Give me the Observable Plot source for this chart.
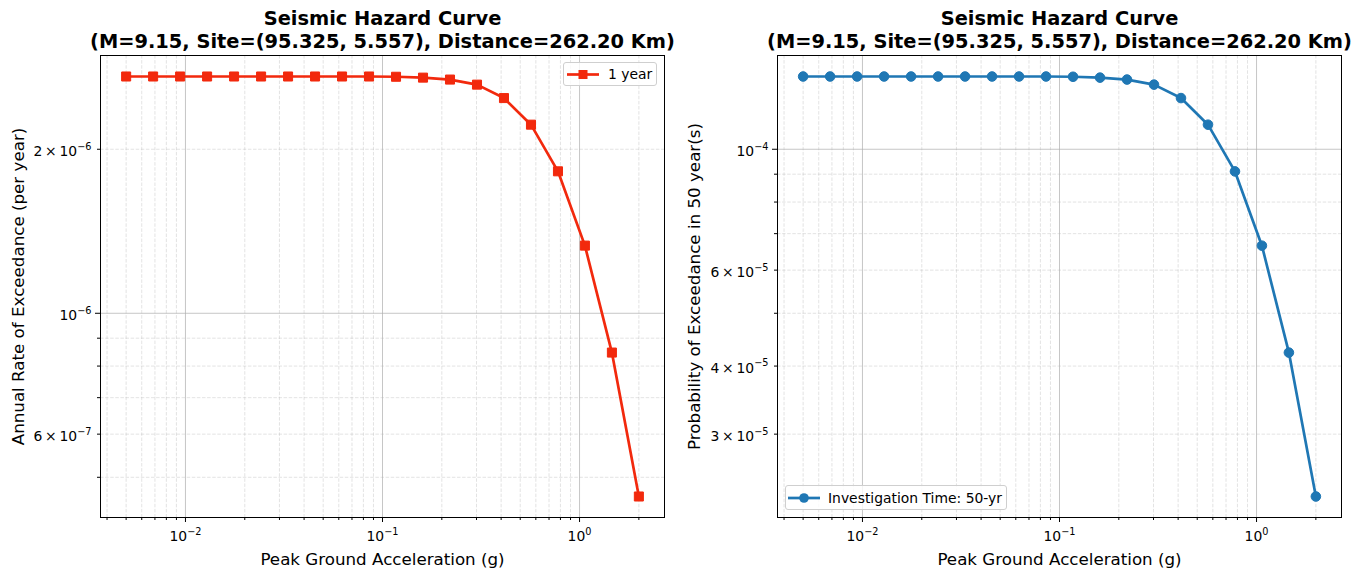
<!DOCTYPE html>
<html>
<head>
<meta charset="utf-8">
<script src="https://cdn.jsdelivr.net/npm/d3@7"></script>
<script src="https://cdn.jsdelivr.net/npm/@observablehq/plot@0.6"></script>
<style>
  body { margin: 0; background: #fff; }
  #wrap { position: relative; width: 1362px; height: 579px; font-family: "DejaVu Sans", sans-serif; }
  .panel { position: absolute; top: 0; width: 681px; height: 579px; }
  .legend { position: absolute; box-sizing: border-box; border: 1px solid #cfcfcf; border-radius: 3px;
            background: rgba(255,255,255,0.8); font-size: 13.9px; color: #000; }
  .legend svg { position: absolute; left: 0; top: 0; }
  .legend span { position: absolute; top: 3px; white-space: nowrap; }
</style>
</head>
<body>
<div id="wrap">
  <div class="panel" id="left" style="left:0"></div>
  <div class="panel" id="right" style="left:681px"></div>
  <div class="legend" style="left:563px; top:62px; width:94px; height:24px">
    <svg width="40" height="24"><line x1="3" x2="35" y1="11.5" y2="11.5" stroke="#f2290d" stroke-width="2.7"/><rect x="14.5" y="7" width="9" height="9" fill="#f2290d"/></svg>
    <span style="left:44px">1 year</span>
  </div>
  <div class="legend" style="left:785px; top:485px; width:222px; height:25px">
    <svg width="40" height="25"><line x1="2" x2="34" y1="12" y2="12" stroke="#1f77b4" stroke-width="2.7"/><circle cx="18" cy="12" r="4.8" fill="#1f77b4"/></svg>
    <span style="left:42px; top:4px">Investigation Time: 50-yr</span>
  </div>
</div>
<script>
// Peak ground acceleration levels (g)
const pga = [0.005, 0.006853, 0.009395, 0.012878, 0.017653, 0.024199, 0.033171, 0.045471,
             0.062331, 0.085442, 0.11712, 0.16055, 0.22008, 0.30169, 0.41355, 0.56689,
             0.77709, 1.0647, 1.4594, 2.0];
// Annual rate of exceedance (per year)
const annualRate = [2.72e-6, 2.72e-6, 2.72e-6, 2.72e-6, 2.72e-6, 2.72e-6, 2.72e-6, 2.72e-6,
                    2.72e-6, 2.72e-6, 2.717e-6, 2.707e-6, 2.685e-6, 2.628e-6, 2.483e-6,
                    2.219e-6, 1.822e-6, 1.331e-6, 0.847e-6, 0.461e-6];
// Probability of exceedance in a 50-year investigation time
const poe50 = [1.360e-4, 1.360e-4, 1.360e-4, 1.360e-4, 1.360e-4, 1.360e-4, 1.360e-4, 1.360e-4,
               1.360e-4, 1.360e-4, 1.3585e-4, 1.3535e-4, 1.3425e-4, 1.314e-4, 1.2415e-4,
               1.1094e-4, 9.106e-5, 6.653e-5, 4.234e-5, 2.305e-5];

// Axis ticks and their labels ("^" marks the start of an exponent)
const xMajor = [0.01, 0.1, 1];
const xMajorLabels = ["10^−2", "10^−1", "10^0"];
const xMinor = [0.004, 0.005, 0.006, 0.007, 0.008, 0.009, 0.02, 0.03, 0.04, 0.05, 0.06, 0.07,
                0.08, 0.09, 0.2, 0.3, 0.4, 0.5, 0.6, 0.7, 0.8, 0.9, 2];
const rateMajor = [1e-6];
const rateMinor = [5e-7, 6e-7, 7e-7, 8e-7, 9e-7, 2e-6];
const rateLabelTicks = [6e-7, 1e-6, 2e-6];
const rateLabels = ["6\u2009×\u200910^−7", "10^−6", "2\u2009×\u200910^−6"];
const poeMajor = [1e-4];
const poeMinor = [3e-5, 4e-5, 5e-5, 6e-5, 7e-5, 8e-5, 9e-5];
const poeLabelTicks = [3e-5, 4e-5, 6e-5, 1e-4];
const poeLabels = ["3\u2009×\u200910^−5", "4\u2009×\u200910^−5", "6\u2009×\u200910^−5", "10^−4"];

const title1 = "Seismic Hazard Curve";
const title2 = "(M=9.15, Site=(95.325, 5.557), Distance=262.20 Km)";
const xLabel = "Peak Ground Acceleration (g)";

function logPadded(vals) {
  const [lo, hi] = d3.extent(vals);
  const a = Math.log10(lo), b = Math.log10(hi), p = (b - a) * 0.05;
  return [10 ** (a - p), 10 ** (b + p)];
}

// Turn "base^exp" tick labels into a base plus a raised, smaller exponent
function superscripts(svg) {
  for (const t of svg.querySelectorAll("text")) {
    const s = t.textContent;
    if (!s.includes("^")) continue;
    const [base, exp] = s.split("^");
    t.textContent = "";
    const b = document.createElementNS("http://www.w3.org/2000/svg", "tspan");
    b.textContent = base;
    const e = document.createElementNS("http://www.w3.org/2000/svg", "tspan");
    e.textContent = exp;
    e.setAttribute("font-size", "70%");
    e.setAttribute("dy", "-0.62em");
    t.append(b, e);
  }
  return svg;
}

function panel({values, color, symbol, r, yLabel, yMajor, yMinor, labelTicks, labels, marginLeft, marginRight, yLabelDx}) {
  const data = pga.map((x, i) => ({x, y: values[i]}));
  const labelMap = new Map(labelTicks.map((t, i) => [t, labels[i]]));
  const xLabelMap = new Map(xMajor.map((t, i) => [t, xMajorLabels[i]]));
  const gridMinor = {stroke: "#b0b0b0", strokeOpacity: 0.45, strokeWidth: 0.8, strokeDasharray: "3.5,1.6"};
  const gridMajor = {stroke: "#b0b0b0", strokeOpacity: 0.9, strokeWidth: 0.8};
  return superscripts(Plot.plot({
    width: 681, height: 579,
    marginTop: 55, marginBottom: 62, marginLeft, marginRight,
    style: {fontFamily: "DejaVu Sans", fontSize: "13.9px", color: "#000", background: "transparent", overflow: "visible"},
    x: {type: "log", domain: logPadded(pga), label: null},
    y: {type: "log", domain: logPadded(values), label: null},
    marks: [
      Plot.gridX(xMinor, gridMinor),
      Plot.gridY(yMinor, gridMinor),
      Plot.gridX(xMajor, gridMajor),
      Plot.gridY(yMajor, gridMajor),
      Plot.line(data, {x: "x", y: "y", stroke: color, strokeWidth: 2.7}),
      Plot.dot(data, {x: "x", y: "y", symbol, r, fill: color, stroke: color, strokeWidth: 1}),
      Plot.frame({stroke: "#000", strokeWidth: 1}),
      Plot.axisX(xMajor, {tickSize: 5, tickPadding: 9, tickFormat: d => xLabelMap.get(d), label: null, stroke: "#000"}),
      Plot.axisX(xMinor, {tickSize: 3, tickFormat: () => "", label: null, stroke: "#000"}),
      Plot.axisY(yMajor, {tickSize: 5, tickFormat: () => "", label: null, stroke: "#000"}),
      Plot.axisY(yMinor, {tickSize: 3, tickFormat: () => "", label: null, stroke: "#000"}),
      Plot.axisY(labelTicks, {tickSize: 0, tickPadding: 9, dy: 2, tickFormat: d => labelMap.get(d), label: null}),
      Plot.text([xLabel], {text: d => d, frameAnchor: "bottom", lineAnchor: "middle", dy: 42, fontSize: 16.7}),
      Plot.text([yLabel], {text: d => d, frameAnchor: "left", textAnchor: "middle", lineAnchor: "middle", dx: yLabelDx, rotate: -90, fontSize: 16.7}),
      Plot.text([title1], {text: d => d, frameAnchor: "top", lineAnchor: "middle", dy: -37, fontSize: 19.4, fontWeight: "bold"}),
      Plot.text([title2], {text: d => d, frameAnchor: "top", lineAnchor: "middle", dy: -14, fontSize: 19.4, fontWeight: "bold"})
    ]
  }));
}

document.getElementById("left").append(panel({
  values: annualRate, color: "#f2290d", symbol: "square", r: 5.1,
  yLabel: "Annual Rate of Exceedance (per year)",
  yMajor: rateMajor, yMinor: rateMinor, labelTicks: rateLabelTicks, labels: rateLabels,
  marginLeft: 100, marginRight: 17, yLabelDx: -82
}));
document.getElementById("right").append(panel({
  values: poe50, color: "#1f77b4", symbol: "circle", r: 4.8,
  yLabel: "Probability of Exceedance in 50 year(s)",
  yMajor: poeMajor, yMinor: poeMinor, labelTicks: poeLabelTicks, labels: poeLabels,
  marginLeft: 96, marginRight: 21, yLabelDx: -83
}));
</script>
</body>
</html>
